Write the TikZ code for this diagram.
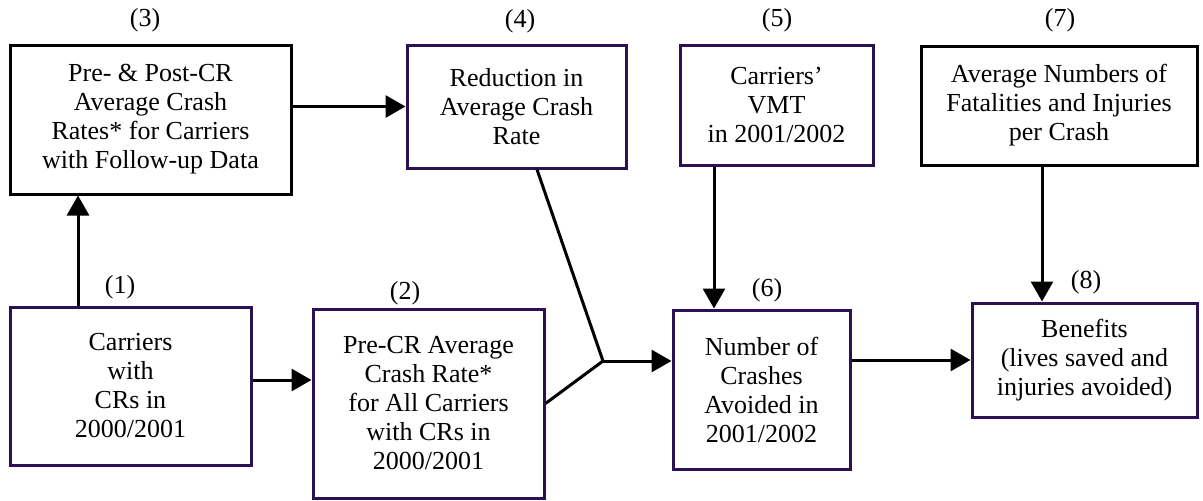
\documentclass[tikz,border=0pt]{standalone}
\usepackage{fontspec}
\setmainfont{Liberation Serif}
\usetikzlibrary{%
  arrows.meta,%
  calc%
}
\definecolor{boxline}{RGB}{44,16,84}
\tikzset{>={Triangle[length=20pt,width=22pt]}}
\tikzset{
  box/.style={draw=boxline,line width=3pt,inner sep=0pt,align=center,
    font=\fontsize{26}{29}\selectfont},
  bbox/.style={box,draw=black},
  num/.style={inner sep=0pt,font=\fontsize{26}{29}\selectfont},
  link/.style={line width=3pt}
}

\begin{document}
\begin{tikzpicture}[x=1pt,y=-1pt]
  \useasboundingbox (0,0) rectangle (1203,501);
  \node[box,minimum width=241pt,minimum height=158pt] (n1) at (130.5,386)
  {Carriers\\with\\CRs in\\2000/2001};
  \node[box,minimum width=231pt,minimum height=189pt] (n2) at (428.5,403.5)
  {Pre-CR Average\\Crash Rate*\\for All Carriers\\with CRs in\\2000/2001};
  \node[bbox,minimum width=281pt,minimum height=149pt] (n3) at (150.5,119.5)
  {Pre- \& Post-CR\\Average Crash\\Rates* for Carriers\\with Follow-up Data};
  \node[box,minimum width=219pt,minimum height=123pt] (n4) at (516.5,106.5)
  {Reduction in\\Average Crash\\Rate};
  \node[box,minimum width=193pt,minimum height=120pt] (n5) at (776.5,105)
  {Carriers'\\VMT\\in 2001/2002};
  \node[box,minimum width=177pt,minimum height=159pt] (n6) at (761.5,389.5)
  {Number of\\Crashes\\Avoided in\\2001/2002};
  \node[bbox,minimum width=276pt,minimum height=119pt] (n7) at (1059,105.5)
  {Average Numbers of\\Fatalities and Injuries\\per Crash};
  \node[box,minimum width=225pt,minimum height=114pt] (n8) at (1084.5,360)
  {Benefits\\(lives saved and\\injuries avoided)};
  \node[num] (l1) at (120,287) {(1)};
  \node[num] (l2) at (405,293) {(2)};
  \node[num] (l3) at (145,20) {(3)};
  \node[num] (l4) at (520,21) {(4)};
  \node[num] (l5) at (777,20) {(5)};
  \node[num] (l6) at (767,290) {(6)};
  \node[num] (l7) at (1060,20) {(7)};
  \node[num] (l8) at (1086,282) {(8)};
  \coordinate (c13) at (78,0);
  \coordinate (c12) at (0,380);
  \coordinate (c56) at (714,0);
  \coordinate (c78) at (1042,0);
  \coordinate (j) at (603,361);
  \draw[link,->] (n1.north -| c13) -- (n3.south -| c13);
  \draw[link,->] (n3.east |- n4.west) -- (n4.west);
  \draw[link,->] (n1.east |- c12) -- (n2.west |- c12);
  \draw[link] ($(n4.south)+(20.5,0)$) -- (j) -- (n2.east);
  \draw[link,->] (j) -- (j -| n6.west);
  \draw[link,->] (n5.south -| c56) -- (n6.north -| c56);
  \draw[link,->] (n6.east |- n8.west) -- (n8.west);
  \draw[link,->] (n7.south -| c78) -- (n8.north -| c78);
\end{tikzpicture}
\end{document}
